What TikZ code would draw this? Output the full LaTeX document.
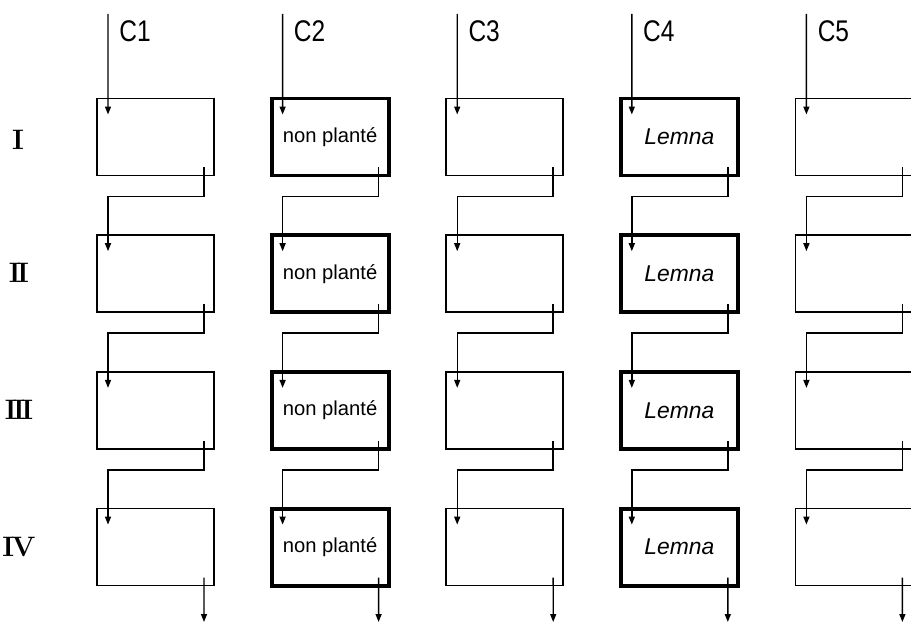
\documentclass[tikz,border=0pt]{standalone}
\usepackage{fontspec}
\newfontfamily\isofont{Liberation Sans}
\newfontfamily\isonarrow[FakeStretch=0.82]{Liberation Sans}
\usetikzlibrary{arrows.meta,calc}

\begin{document}
\begin{tikzpicture}[
  x=0.02cm, y=0.02cm,
  font=\isofont,
  bac/.style={draw, minimum width=2.34cm, minimum height=1.54cm, inner sep=0pt, outer sep=0pt},
  arr/.style={-{Triangle[length=1.6mm, width=1.2mm]}, line width=0.8pt},
  clab/.style={font=\isonarrow\fontsize{17}{17}\selectfont},
  rlab/.style={font=\rmfamily\bfseries\fontsize{16}{16}\selectfont}
]
  \clip (0,0) rectangle (911,-624);

  % bacs: colonnes C1..C5, lignes I..IV
  \foreach \c/\lw/\txt in {1/1pt/{}, 2/2.2pt/{\fontsize{11.5}{12}\selectfont non planté},
                           3/1pt/{}, 4/2.2pt/{\fontsize{13}{14}\selectfont\itshape Lemna}, 5/1pt/{}} {
    \foreach \r in {1,...,4} {
      \node[bac, line width=\lw] (c\c r\r) at ({155.5+174.6*(\c-1)}, {-137-136.7*(\r-1)}) {\txt};
    }
  }

  % entrees et sorties
  \foreach \c in {1,...,5} {
    \coordinate (in\c) at ({108+174.6*(\c-1)}, -14);
    \coordinate (out\c) at ({204+174.6*(\c-1)}, -622);
    \node[clab] (lab\c) at ({135+174.6*(\c-1)}, -31) {C\c};
    \draw[arr] (in\c) -- ([shift={(11,-16)}]c\c r1.north west);
    \draw[arr] ([shift={(-10,8)}]c\c r4.south east) -- (out\c);
    \foreach \r/\n in {1/2, 2/3, 3/4} {
      \draw[arr] ([shift={(-10,8)}]c\c r\r.south east) -- ++(0,-29)
        -| ([shift={(11,-16)}]c\c r\n.north west);
    }
  }

  \node[rlab] (rI) at (18,-140) {I};
  \node[rlab] (rII) at (19,-273) {I\kern-2pt I};
  \node[rlab] (rIII) at (19,-410) {I\kern-2pt I\kern-2pt I};
  \node[rlab] (rIV) at (19,-547) {I\kern-1.5pt V};
\end{tikzpicture}
\end{document}
